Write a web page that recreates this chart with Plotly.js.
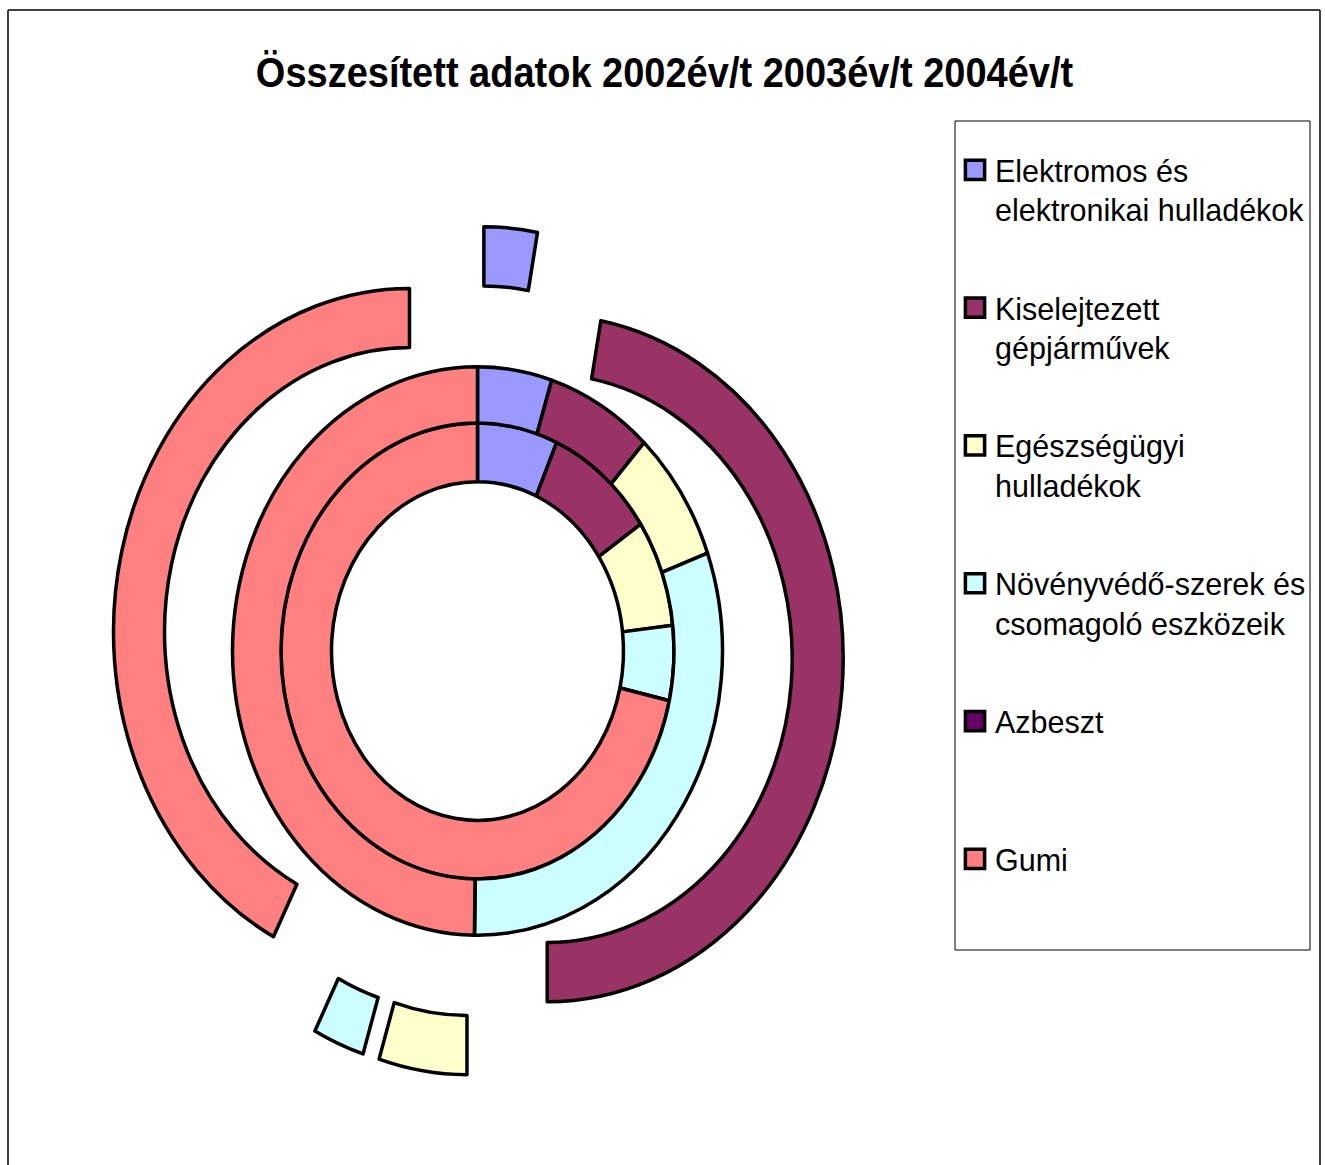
<!DOCTYPE html>
<html>
<head>
<meta charset="utf-8">
<script src="https://cdn.plot.ly/plotly-3.0.1.min.js"></script>
<style>html,body{margin:0;padding:0;background:#fff;}</style>
</head>
<body>
<div id="chart" style="width:1325px;height:1165px;"></div>
<script>
// ---- data ----
const categories = [
  "Elektromos és<br>elektronikai hulladékok",
  "Kiselejtezett<br>gépjárművek",
  "Egészségügyi<br>hulladékok",
  "Növényvédő-szerek és<br>csomagoló eszközeik",
  "Azbeszt",
  "Gumi"
];
const colors = ["#9999FF", "#993366", "#FFFFCC", "#CCFFFF", "#660066", "#FF8080"];
const years = ["2002év/t", "2003év/t", "2004év/t"];
// shares read from the rings (inner = 2002, middle = 2003, outer = 2004)
const values2002 = [6.6, 9.0, 7.6, 5.3, 0, 71.5];
const values2003 = [4.9, 7.0, 7.5, 30.8, 0, 49.8];
const values2004 = [2.9, 47.1, 4.8, 2.8, 0, 42.4];

// ---- layout geometry (pixels) ----
const W = 1325, H = 1165;
const CX = 477.5, CY = 651;      // centre of the rings
const SY = 1.16;                 // vertical stretch of the original chart
const R_HOLE = 146, R1 = 196.5, R2 = 245, R3 = 296;
const PULL = 70 / R3;
const LINE_W = 3.5;

// pad labels to the same number of lines so every legend entry is equal height
function padLabel(s) {
  const n = s.split("<br>").length;
  let out = s;
  for (let i = n; i < 4; i++) out += "<br> ";
  return out;
}
const legendLabels = categories.map(padLabel);

function ring(values, year, rOuter, rInner, pull) {
  const s = rOuter * (1 + pull);
  // no outline on empty slices (they would show as stray strokes)
  const lw = values.map(function (v) { return v > 0 ? LINE_W : 0; });
  return {
    type: "pie",
    name: year,
    labels: legendLabels,
    values: values,
    sort: false,
    direction: "clockwise",
    rotation: 0,
    hole: rInner / rOuter,
    pull: pull,
    textinfo: "none",
    hoverinfo: "label+value+name",
    marker: { colors: colors, line: { color: "#000000", width: pull > 0 ? lw : LINE_W } },
    domain: {
      x: [(CX - s) / W, (CX + s) / W],
      y: [1 - (CY + s) / H, 1 - (CY - s) / H]
    }
  };
}

const data = [
  ring(values2002, years[0], R1, R_HOLE, 0),
  ring(values2003, years[1], R2, R1, 0),
  ring(values2004, years[2], R3, R2, PULL)
];

function px(x) { return x / W; }
function py(y) { return 1 - y / H; }

const TITLE_Y = 74;

const layout = {
  width: W, height: H,
  margin: { l: 0, r: 0, t: 0, b: 0 },
  paper_bgcolor: "#ffffff",
  plot_bgcolor: "#ffffff",
  font: { family: "Liberation Sans, Arial, sans-serif", color: "#000000" },
  title: {
    text: "Összesített adatok " + years.join(" "),
    font: { family: "Liberation Sans, Arial, sans-serif", size: 38, color: "#000000", weight: "bold" },
    x: 664.5 / W, xanchor: "center", xref: "paper",
    y: 1 - TITLE_Y / H, yanchor: "middle", yref: "container"
  },
  showlegend: true,
  legend: {
    x: px(955), xanchor: "left",
    y: py(143.5), yanchor: "top",
    bgcolor: "rgba(0,0,0,0)",
    borderwidth: 0,
    valign: "top",
    traceorder: "normal",
    font: { family: "Liberation Sans, Arial, sans-serif", size: 30.5, color: "#000000" }
  },
  shapes: [
    // outer frame
    { type: "line", xref: "paper", yref: "paper", x0: px(8), x1: px(1320), y0: py(10), y1: py(10), line: { color: "#000", width: 1.5 } },
    { type: "line", xref: "paper", yref: "paper", x0: px(8), x1: px(8), y0: py(10), y1: 0, line: { color: "#000", width: 1.5 } },
    { type: "line", xref: "paper", yref: "paper", x0: px(1320), x1: px(1320), y0: py(10), y1: 0, line: { color: "#000", width: 1.5 } },
    // legend box
    { type: "rect", xref: "paper", yref: "paper", x0: px(955), x1: px(1310), y0: py(121), y1: py(950), line: { color: "#000", width: 1 }, fillcolor: "rgba(0,0,0,0)" }
  ]
};

Plotly.newPlot("chart", data, layout, { displayModeBar: false, staticPlot: true }).then(function (gd) {
  // stretch the rings vertically like the original (elliptical) doughnut
  const pl = gd.querySelector(".pielayer");
  if (pl) {
    pl.setAttribute("transform", "translate(0," + CY + ") scale(1," + SY + ") translate(0," + (-CY) + ")");
    pl.querySelectorAll("path").forEach(function (p) { p.style.vectorEffect = "non-scaling-stroke"; });
  }
  // slightly taller title glyphs, as in the original
  const tt = gd.querySelector(".gtitle");
  if (tt) {
    const bb = tt.getBBox();
    const base = bb.y + bb.height * 0.8;
    tt.setAttribute("transform", "translate(0," + base + ") scale(1,1.1) translate(0," + (-base) + ")");
  }
  // legend entries evenly spaced as in the original
  const items = gd.querySelectorAll(".legend .traces");
  let y0 = null;
  items.forEach(function (g, i) {
    const t = g.getAttribute("transform") || "";
    const m = /translate\(\s*([-\d.e]+)[\s,]+([-\d.e]+)\s*\)/.exec(t);
    if (!m) return;
    const x = parseFloat(m[1]), y = parseFloat(m[2]);
    if (y0 === null) y0 = y;
    g.setAttribute("transform", "translate(" + x + "," + (y0 + i * 137.8) + ")");
    const sym = g.querySelector(".legendpie");
    if (sym) {
      sym.setAttribute("transform", "translate(20,0) scale(1.6)");
      sym.style.vectorEffect = "non-scaling-stroke";
    }
  });
});
</script>
</body>
</html>
